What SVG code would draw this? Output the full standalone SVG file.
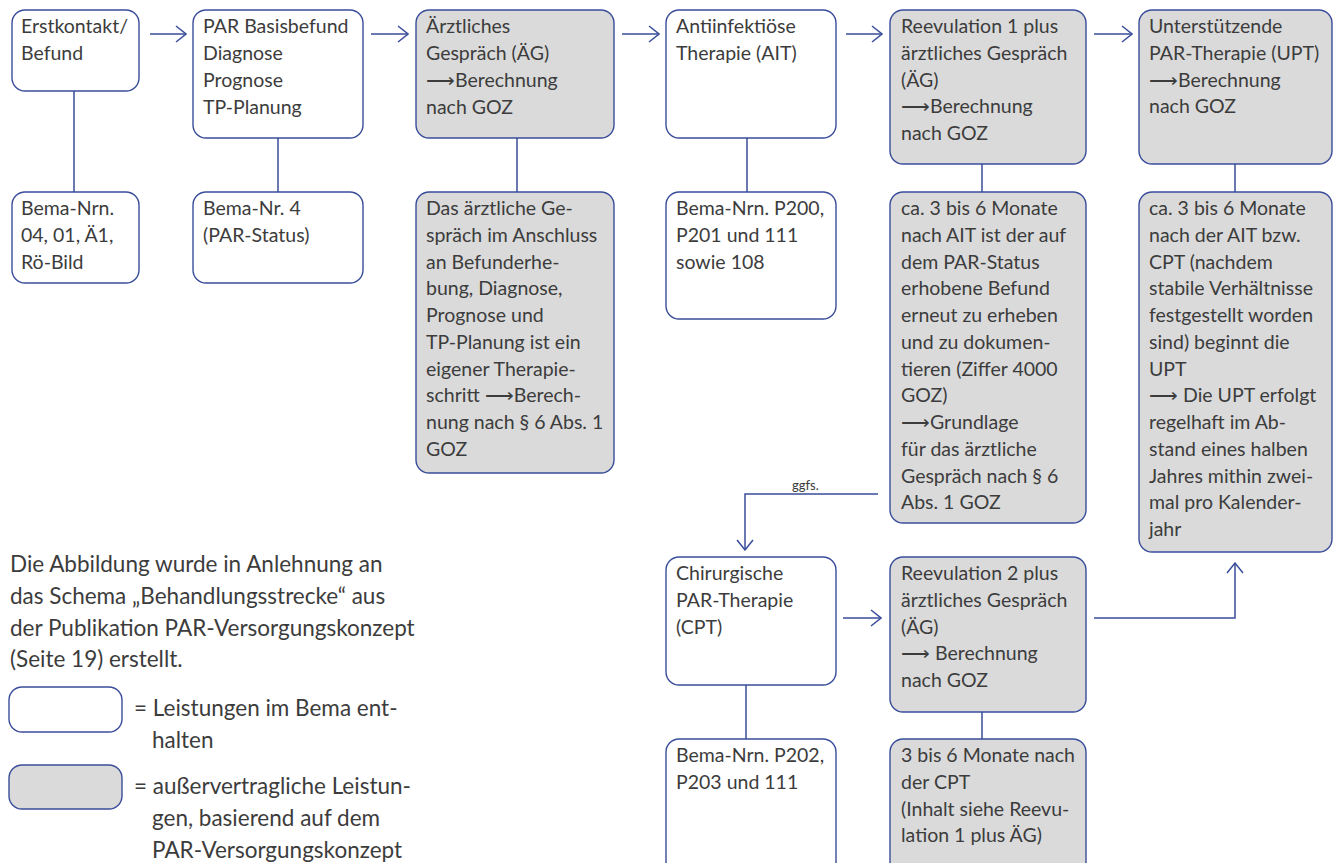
<svg xmlns="http://www.w3.org/2000/svg" width="1333" height="863" viewBox="0 0 1333 863">
<style>
.b{fill:#ffffff;stroke:#3a4d9a;stroke-width:1.4}
.g{fill:#dadada;stroke:#3a4d9a;stroke-width:1.4}
.c{fill:none;stroke:#3a4d9a;stroke-width:1.5}
text{font-family:Lato,"Liberation Sans",sans-serif;font-weight:400;font-size:19.5px;fill:#3c3c3c}
.p{font-size:22.5px}
.s{font-size:13px}
</style>
<defs>
<marker id="ah" viewBox="0 0 12 20" refX="11" refY="10" markerWidth="12" markerHeight="20" markerUnits="userSpaceOnUse" orient="auto">
<path d="M1,2 L11,10 L1,18" fill="none" stroke="#3a4d9a" stroke-width="1.5"/>
</marker>
</defs>
<rect width="1333" height="863" fill="#ffffff"/>
<g id="connectors">
<line class="c" x1="150" y1="34" x2="186" y2="34" marker-end="url(#ah)"/>
<line class="c" x1="371" y1="34" x2="408" y2="34" marker-end="url(#ah)"/>
<line class="c" x1="622" y1="34" x2="659" y2="34" marker-end="url(#ah)"/>
<line class="c" x1="846" y1="34" x2="882" y2="34" marker-end="url(#ah)"/>
<line class="c" x1="1094" y1="34" x2="1132" y2="34" marker-end="url(#ah)"/>
<line class="c" x1="74" y1="91" x2="74" y2="192"/>
<line class="c" x1="278" y1="138" x2="278" y2="192"/>
<line class="c" x1="517" y1="138" x2="517" y2="192"/>
<line class="c" x1="747" y1="138" x2="747" y2="192"/>
<line class="c" x1="982" y1="164" x2="982" y2="192"/>
<line class="c" x1="1235" y1="164" x2="1235" y2="192"/>
<polyline class="c" points="878,494 745,494 745,550" marker-end="url(#ah)"/>
<text class="s" x="792" y="490">ggfs.</text>
<line class="c" x1="843" y1="618" x2="881" y2="618" marker-end="url(#ah)"/>
<polyline class="c" points="1094,618 1235,618 1235,563" marker-end="url(#ah)"/>
<line class="c" x1="746" y1="685" x2="746" y2="739"/>
<line class="c" x1="982" y1="712" x2="982" y2="739"/>
</g>
<g id="n1">
<rect class="b" x="12" y="10" width="127" height="81" rx="13"/>
<text x="21" y="33">Erstkontakt/</text>
<text x="21" y="60">Befund</text>
</g>
<g id="n1b">
<rect class="b" x="12" y="192" width="127" height="91" rx="13"/>
<text x="21" y="215">Bema-Nrn.</text>
<text x="21" y="242">04, 01, Ä1,</text>
<text x="21" y="269">Rö-Bild</text>
</g>
<g id="n2">
<rect class="b" x="193" y="10" width="170" height="128" rx="13"/>
<text x="203" y="33">PAR Basisbefund</text>
<text x="203" y="60">Diagnose</text>
<text x="203" y="87">Prognose</text>
<text x="203" y="114">TP-Planung</text>
</g>
<g id="n2b">
<rect class="b" x="193" y="192" width="170" height="91" rx="13"/>
<text x="203" y="215">Bema-Nr. 4</text>
<text x="203" y="242">(PAR-Status)</text>
</g>
<g id="n3">
<rect class="g" x="416" y="10" width="198" height="128" rx="13"/>
<text x="426" y="33">Ärztliches</text>
<text x="426" y="60">Gespräch (ÄG)</text>
<text x="426" y="87">⟶Berechnung</text>
<text x="426" y="114">nach GOZ</text>
</g>
<g id="n3b">
<rect class="g" x="416" y="192" width="198" height="281" rx="13"/>
<text x="426" y="215">Das ärztliche Ge-</text>
<text x="426" y="242">spräch im Anschluss</text>
<text x="426" y="269">an Befunderhe-</text>
<text x="426" y="295">bung, Diagnose,</text>
<text x="426" y="322">Prognose und</text>
<text x="426" y="349">TP-Planung ist ein</text>
<text x="426" y="376">eigener Therapie-</text>
<text x="426" y="402">schritt ⟶Berech-</text>
<text x="426" y="429">nung nach § 6 Abs. 1</text>
<text x="426" y="456">GOZ</text>
</g>
<g id="n4">
<rect class="b" x="666" y="10" width="170" height="128" rx="13"/>
<text x="676" y="33">Antiinfektiöse</text>
<text x="676" y="60">Therapie (AIT)</text>
</g>
<g id="n4b">
<rect class="b" x="666" y="192" width="170" height="127" rx="13"/>
<text x="676" y="215">Bema-Nrn. P200,</text>
<text x="676" y="242">P201 und 111</text>
<text x="676" y="269">sowie 108</text>
</g>
<g id="n5">
<rect class="g" x="890" y="10" width="196" height="154" rx="13"/>
<text x="901" y="33">Reevulation 1 plus</text>
<text x="901" y="60">ärztliches Gespräch</text>
<text x="901" y="87">(ÄG)</text>
<text x="901" y="113">⟶Berechnung</text>
<text x="901" y="140">nach GOZ</text>
</g>
<g id="n5b">
<rect class="g" x="890" y="192" width="196" height="331" rx="13"/>
<text x="901" y="215">ca. 3 bis 6 Monate</text>
<text x="901" y="242">nach AIT ist der auf</text>
<text x="901" y="269">dem PAR-Status</text>
<text x="901" y="295">erhobene Befund</text>
<text x="901" y="322">erneut zu erheben</text>
<text x="901" y="349">und zu dokumen-</text>
<text x="901" y="376">tieren (Ziffer 4000</text>
<text x="901" y="402">GOZ)</text>
<text x="901" y="429">⟶Grundlage</text>
<text x="901" y="456">für das ärztliche</text>
<text x="901" y="483">Gespräch nach § 6</text>
<text x="901" y="509">Abs. 1 GOZ</text>
</g>
<g id="n6">
<rect class="g" x="1139" y="10" width="193" height="154" rx="13"/>
<text x="1149" y="33">Unterstützende</text>
<text x="1149" y="60">PAR-Therapie (UPT)</text>
<text x="1149" y="87">⟶Berechnung</text>
<text x="1149" y="113">nach GOZ</text>
</g>
<g id="n6b">
<rect class="g" x="1139" y="192" width="193" height="360" rx="13"/>
<text x="1149" y="215">ca. 3 bis 6 Monate</text>
<text x="1149" y="242">nach der AIT bzw.</text>
<text x="1149" y="269">CPT (nachdem</text>
<text x="1149" y="295">stabile Verhältnisse</text>
<text x="1149" y="322">festgestellt worden</text>
<text x="1149" y="349">sind) beginnt die</text>
<text x="1149" y="376">UPT</text>
<text x="1149" y="402">⟶ Die UPT erfolgt</text>
<text x="1149" y="429">regelhaft im Ab-</text>
<text x="1149" y="456">stand eines halben</text>
<text x="1149" y="483">Jahres mithin zwei-</text>
<text x="1149" y="509">mal pro Kalender-</text>
<text x="1149" y="536">jahr</text>
</g>
<g id="n7">
<rect class="b" x="666" y="557" width="170" height="128" rx="13"/>
<text x="676" y="580">Chirurgische</text>
<text x="676" y="607">PAR-Therapie</text>
<text x="676" y="634">(CPT)</text>
</g>
<g id="n7b">
<rect class="b" x="666" y="739" width="170" height="150" rx="13"/>
<text x="676" y="762">Bema-Nrn. P202,</text>
<text x="676" y="789">P203 und 111</text>
</g>
<g id="n8">
<rect class="g" x="890" y="557" width="196" height="155" rx="13"/>
<text x="901" y="580">Reevulation 2 plus</text>
<text x="901" y="607">ärztliches Gespräch</text>
<text x="901" y="634">(ÄG)</text>
<text x="901" y="660">⟶ Berechnung</text>
<text x="901" y="687">nach GOZ</text>
</g>
<g id="n8b">
<rect class="g" x="890" y="739" width="196" height="150" rx="13"/>
<text x="901" y="762">3 bis 6 Monate nach</text>
<text x="901" y="789">der CPT</text>
<text x="901" y="816">(Inhalt siehe Reevu-</text>
<text x="901" y="842">lation 1 plus ÄG)</text>
</g>
<g id="legend">
<text class="p" x="10" y="572">Die Abbildung wurde in Anlehnung an</text>
<text class="p" x="10" y="604">das Schema „Behandlungsstrecke“ aus</text>
<text class="p" x="10" y="636">der Publikation PAR-Versorgungskonzept</text>
<text class="p" x="10" y="667">(Seite 19) erstellt.</text>
<rect class="b" x="9" y="687" width="113" height="45" rx="13"/>
<text class="p" x="134" y="716">= Leistungen im Bema ent-</text>
<text class="p" x="152" y="748">halten</text>
<rect class="g" x="9" y="765" width="113" height="44" rx="13"/>
<text class="p" x="134" y="794">= außervertragliche Leistun-</text>
<text class="p" x="152" y="826">gen, basierend auf dem</text>
<text class="p" x="152" y="858">PAR-Versorgungskonzept</text>
</g>
</svg>
